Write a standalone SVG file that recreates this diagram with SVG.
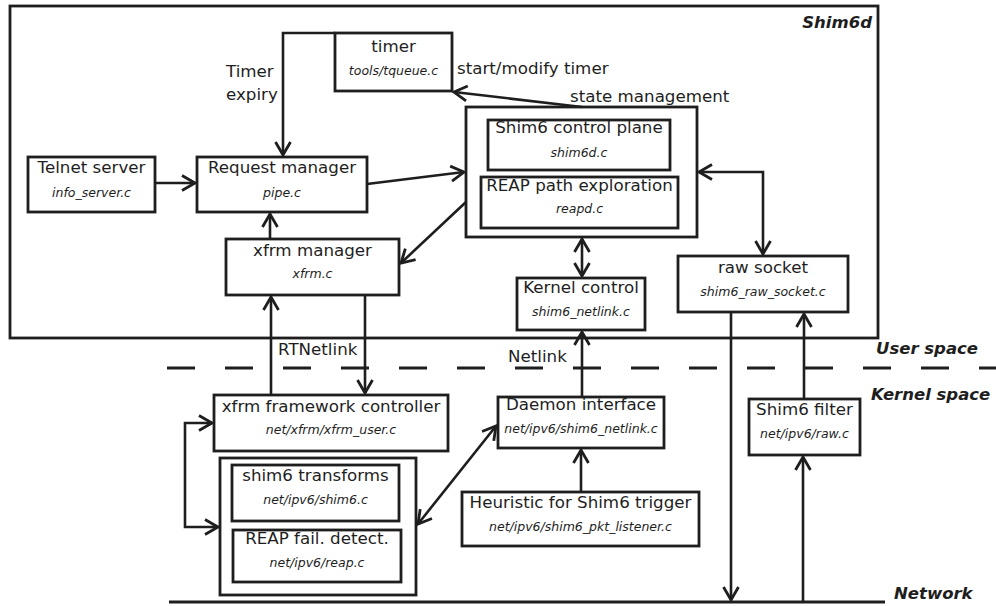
<svg xmlns="http://www.w3.org/2000/svg" width="996" height="606" viewBox="0 0 996 606">
<defs>
<style>
.box{fill:#fff;stroke:#1e1e1e;stroke-width:2.8}
.frame{fill:none;stroke:#1e1e1e;stroke-width:2.8}
.t{font-family:"DejaVu Sans",sans-serif;font-size:16.7px;fill:#1e1e1e;text-anchor:middle}
.f{font-family:"DejaVu Sans",sans-serif;font-size:12.5px;font-style:italic;fill:#1e1e1e;text-anchor:middle}
.l{font-family:"DejaVu Sans",sans-serif;font-size:16.7px;fill:#1e1e1e}
.z{font-family:"DejaVu Sans",sans-serif;font-size:16.5px;font-weight:bold;font-style:italic;fill:#1e1e1e}
.c{fill:none;stroke:#1e1e1e;stroke-width:2.6}
.ae{marker-end:url(#a)}
.ab{marker-start:url(#a);marker-end:url(#a)}
</style>
<marker id="a" markerUnits="userSpaceOnUse" viewBox="-16 -10 20 20" refX="0" refY="0" markerWidth="20" markerHeight="20" orient="auto-start-reverse">
<path d="M-13,-7.5 L0,0 L-13,7.5" fill="none" stroke="#1e1e1e" stroke-width="2.8"/>
</marker>
</defs>

<g id="shim6d">
<rect class="frame" x="10" y="6" width="868" height="332"/>
<text class="z" x="872" y="28" text-anchor="end">Shim6d</text>
</g>

<g id="labels">
<text class="z" x="876" y="354">User space</text>
<text class="z" x="871" y="400">Kernel space</text>
<text class="z" x="894" y="599">Network</text>
<text class="l" x="226" y="77">Timer</text>
<text class="l" x="226" y="100">expiry</text>
<text class="l" x="457" y="74">start/modify timer</text>
<text class="l" x="570" y="102">state management</text>
<text class="l" x="278" y="355">RTNetlink</text>
<text class="l" x="508" y="362">Netlink</text>
</g>

<g id="lines">
<path d="M167,368 H996" fill="none" stroke="#1e1e1e" stroke-width="3" stroke-dasharray="28 30"/>
<path d="M169,602 H885" fill="none" stroke="#1e1e1e" stroke-width="3"/>
</g>

<g id="timer">
<rect class="box" x="335" y="33" width="117" height="58"/>
<text class="t" x="393.5" y="52">timer</text>
<text class="f" x="393.5" y="75">tools/tqueue.c</text>
</g>

<g id="telnet">
<rect class="box" x="28" y="157" width="127" height="55"/>
<text class="t" x="91.5" y="173">Telnet server</text>
<text class="f" x="91.5" y="197">info_server.c</text>
</g>

<g id="request">
<rect class="box" x="197" y="157" width="170" height="55"/>
<text class="t" x="282" y="173">Request manager</text>
<text class="f" x="282" y="197">pipe.c</text>
</g>

<g id="state">
<rect class="box" x="466" y="107" width="231" height="130"/>
</g>

<g id="control">
<rect class="box" x="488" y="120" width="182" height="50"/>
<text class="t" x="579" y="133">Shim6 control plane</text>
<text class="f" x="579" y="157">shim6d.c</text>
</g>

<g id="reapd">
<rect class="box" x="481" y="177" width="197" height="51"/>
<text class="t" x="579.5" y="191">REAP path exploration</text>
<text class="f" x="579.5" y="213">reapd.c</text>
</g>

<g id="xfrm">
<rect class="box" x="226" y="239" width="173" height="56"/>
<text class="t" x="312.5" y="256">xfrm manager</text>
<text class="f" x="312.5" y="278">xfrm.c</text>
</g>

<g id="kernelctl">
<rect class="box" x="517" y="278" width="128" height="52"/>
<text class="t" x="581" y="293">Kernel control</text>
<text class="f" x="581" y="316">shim6_netlink.c</text>
</g>

<g id="rawsock">
<rect class="box" x="678" y="256" width="170" height="56"/>
<text class="t" x="763" y="273">raw socket</text>
<text class="f" x="763" y="296">shim6_raw_socket.c</text>
</g>

<g id="xfrmfw">
<rect class="box" x="214" y="395" width="234" height="56"/>
<text class="t" x="331" y="412">xfrm framework controller</text>
<text class="f" x="331" y="434">net/xfrm/xfrm_user.c</text>
</g>

<g id="kgroup">
<rect class="box" x="220" y="458" width="196" height="137"/>
</g>

<g id="transforms">
<rect class="box" x="232" y="465" width="167" height="56"/>
<text class="t" x="315.5" y="481">shim6 transforms</text>
<text class="f" x="315.5" y="504">net/ipv6/shim6.c</text>
</g>

<g id="reapfail">
<rect class="box" x="233" y="530" width="168" height="52"/>
<text class="t" x="317" y="544">REAP fail. detect.</text>
<text class="f" x="317" y="567">net/ipv6/reap.c</text>
</g>

<g id="daemon">
<rect class="box" x="498" y="397" width="166" height="51"/>
<text class="t" x="581" y="410">Daemon interface</text>
<text class="f" x="581" y="433">net/ipv6/shim6_netlink.c</text>
</g>

<g id="heuristic">
<rect class="box" x="462" y="492" width="237" height="54"/>
<text class="t" x="580.5" y="508">Heuristic for Shim6 trigger</text>
<text class="f" x="580.5" y="531">net/ipv6/shim6_pkt_listener.c</text>
</g>

<g id="filter">
<rect class="box" x="749" y="399" width="111" height="56"/>
<text class="t" x="804.5" y="415">Shim6 filter</text>
<text class="f" x="804.5" y="438">net/ipv6/raw.c</text>
</g>

<g id="connectors">
<path class="c ae" d="M335,33 H283 V155"/>
<path class="c ae" d="M155,183 H195"/>
<path class="c ae" d="M367,184 L464,172"/>
<path class="c ae" d="M582,107 L454,92"/>
<path class="c ab" d="M699,172 H763 V254"/>
<path class="c ab" d="M582,239 V276"/>
<path class="c ae" d="M466,202 L401,263"/>
<path class="c ae" d="M270,239 V214"/>
<path class="c ae" d="M271,395 V297"/>
<path class="c ae" d="M365,295 V393"/>
<path class="c ae" d="M582,397 V332"/>
<path class="c ae" d="M581,492 V450"/>
<path class="c ab" d="M212,423 H185 V527 H218"/>
<path class="c ab" d="M418,524 L496,426"/>
<path class="c ae" d="M731,312 V600"/>
<path class="c ae" d="M803,602 V457"/>
<path class="c ae" d="M804,399 V314"/>
</g>
</svg>
